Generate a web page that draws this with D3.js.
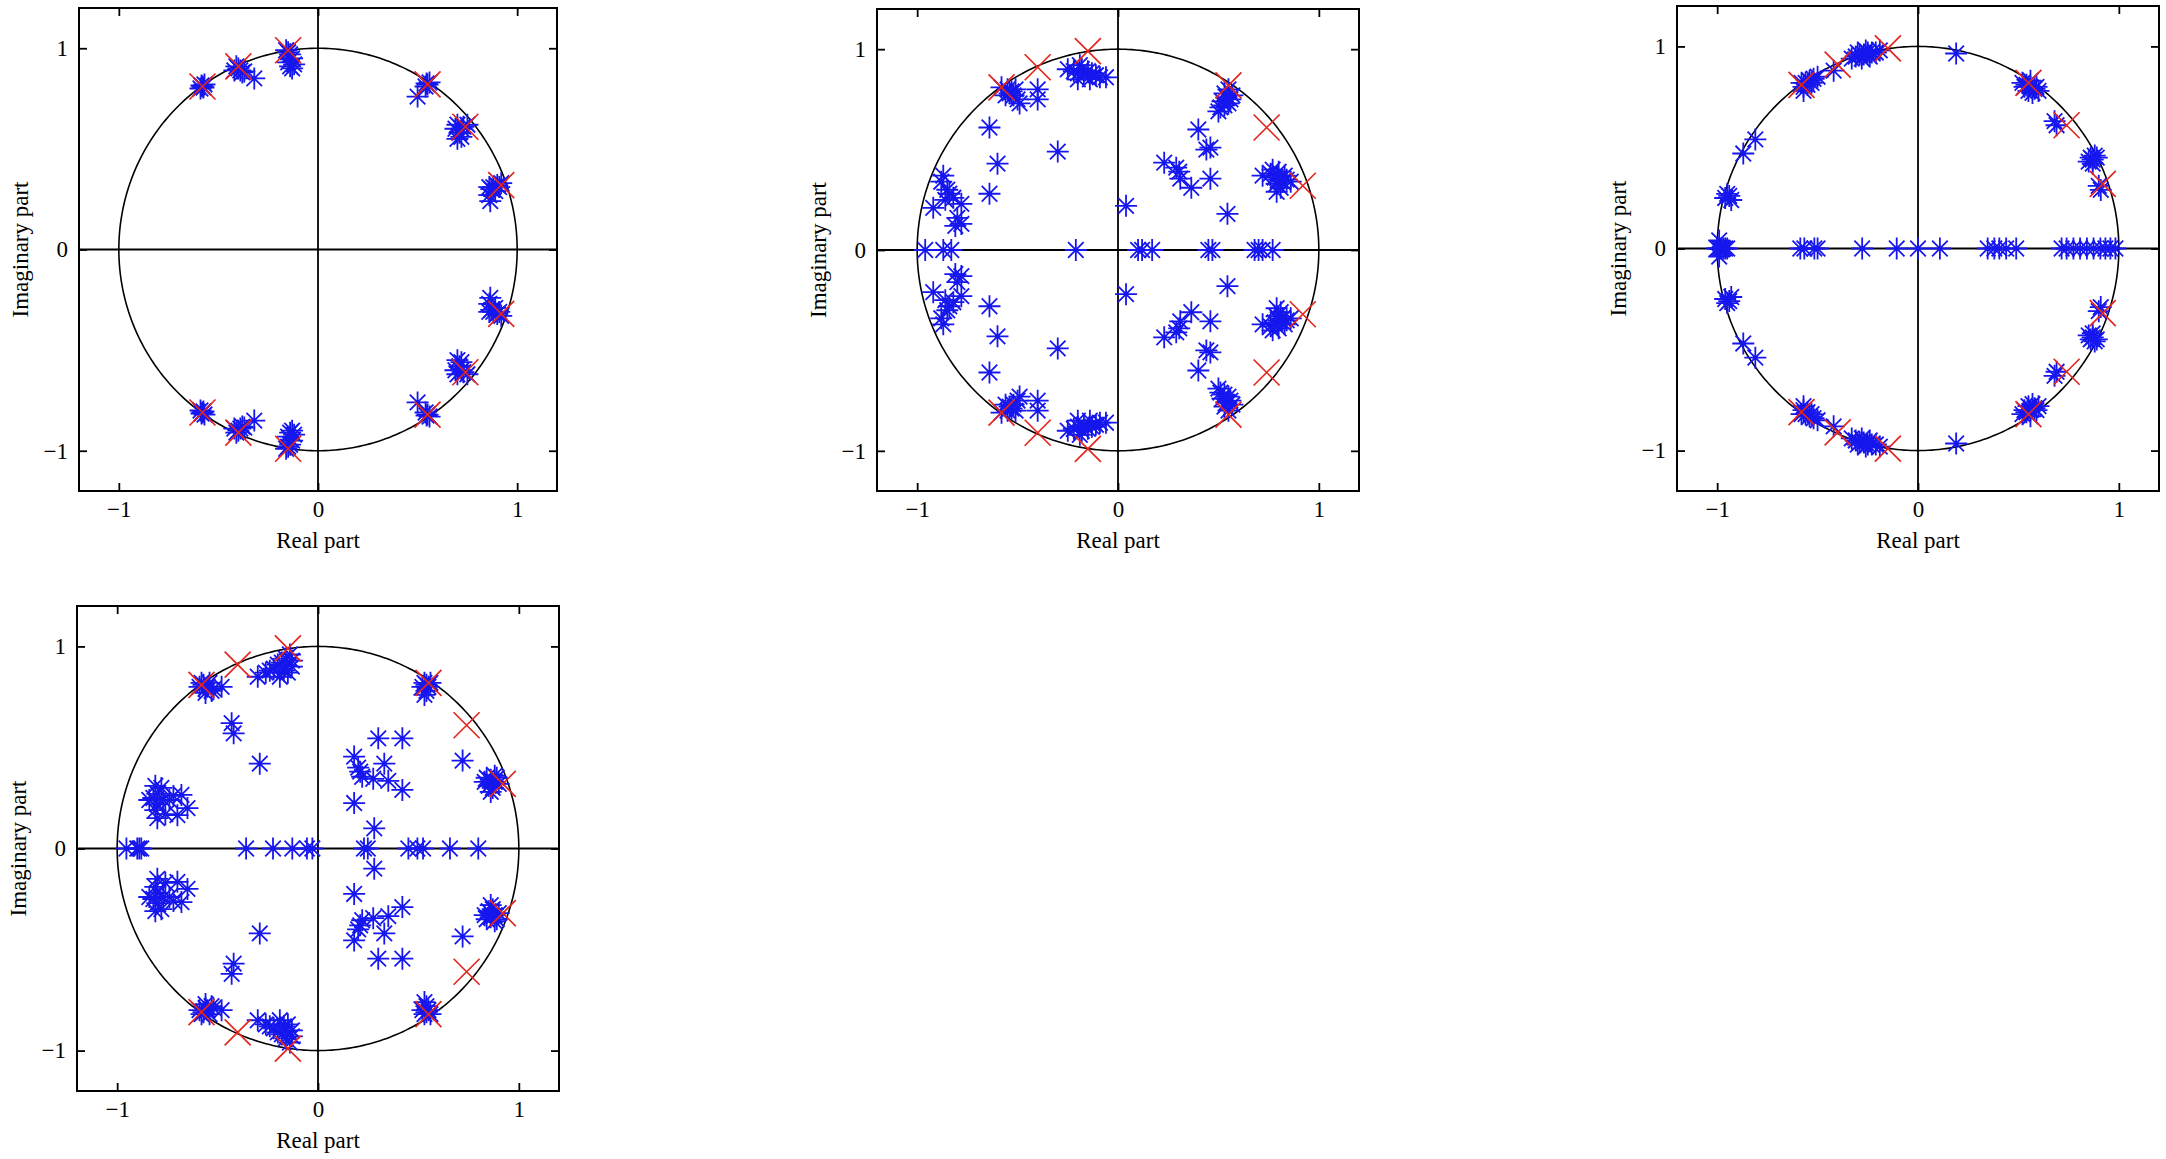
<!DOCTYPE html>
<html>
<head>
<meta charset="utf-8">
<script src="https://cdn.jsdelivr.net/npm/d3@7"></script>
<style>
  html, body { margin: 0; padding: 0; background: #fff; }
  svg { display: block; }
</style>
</head>
<body>
<div id="chart"></div>
<script>
// ---------------- DATA ----------------
const axisLimits = [-1.2, 1.2];
const xTicks = [-1, 0, 1];
const yTicks = [-1, 0, 1];
const tickLabels = ["\u22121", "0", "1"];
const xTitle = "Real part";
const yTitle = "Imaginary part";

// true poles (red crosses), upper half; conjugates are also plotted
const poleRe = [-0.58, -0.40, -0.15, 0.55, 0.74, 0.92];
const poleIm = [0.81, 0.91, 0.99, 0.82, 0.61, 0.32];

// estimated poles (blue asterisks): upper-half points (conjugates also plotted) and real-axis points
const panel1Upper = [
  [-0.58,0.81],[-0.57,0.82],[-0.59,0.80],[-0.575,0.805],[-0.585,0.815],
  [-0.40,0.90],[-0.39,0.89],[-0.41,0.91],[-0.38,0.88],[-0.42,0.89],[-0.37,0.885],[-0.32,0.85],
  [-0.15,0.98],[-0.14,0.97],[-0.16,0.99],[-0.13,0.95],[-0.14,0.91],[-0.13,0.90],[-0.12,0.92],[-0.15,0.93],
  [0.55,0.82],[0.54,0.81],[0.56,0.83],[0.545,0.825],[0.50,0.76],
  [0.70,0.62],[0.72,0.60],[0.71,0.58],[0.73,0.61],[0.69,0.60],[0.72,0.56],[0.75,0.62],[0.70,0.55],
  [0.87,0.30],[0.88,0.31],[0.90,0.32],[0.92,0.33],[0.86,0.27],[0.86,0.31],[0.89,0.29],[0.91,0.31],[0.865,0.24]
];
const panel1Real = [];

const panel2Upper = [
  [-0.58,0.81],[-0.55,0.80],[-0.53,0.79],[-0.52,0.77],[-0.50,0.75],[-0.49,0.73],[-0.54,0.78],[-0.56,0.77],[-0.51,0.80],
  [-0.40,0.80],[-0.40,0.75],
  [-0.25,0.90],[-0.22,0.89],[-0.20,0.88],[-0.18,0.90],[-0.17,0.87],[-0.15,0.89],[-0.13,0.88],[-0.11,0.87],
  [-0.09,0.86],[-0.20,0.85],[-0.14,0.85],[-0.06,0.86],[-0.19,0.92],
  [-0.64,0.61],[-0.30,0.49],[-0.60,0.43],[-0.64,0.28],
  [-0.87,0.37],[-0.88,0.34],[-0.85,0.30],[-0.84,0.28],[-0.82,0.26],[-0.92,0.21],[-0.80,0.16],[-0.78,0.13],
  [-0.78,0.23],[-0.86,0.25],[-0.81,0.12],
  [0.04,0.22],[0.40,0.60],[0.44,0.50],[0.46,0.51],
  [0.23,0.435],[0.29,0.41],[0.305,0.39],[0.31,0.355],[0.365,0.31],[0.46,0.355],[0.545,0.18],
  [0.55,0.80],[0.53,0.78],[0.54,0.76],[0.56,0.75],[0.52,0.74],[0.51,0.71],[0.50,0.69],[0.55,0.73],[0.57,0.77],[0.53,0.72],
  [0.72,0.37],[0.76,0.38],[0.78,0.36],[0.80,0.35],[0.82,0.34],[0.84,0.35],[0.79,0.33],[0.81,0.31],[0.79,0.29],
  [0.83,0.37],[0.77,0.40],[0.80,0.39],[0.86,0.34]
];
const panel2Real = [-0.96, -0.87, -0.83, -0.21, 0.10, 0.12, 0.17, 0.45, 0.47, 0.68, 0.70, 0.72, 0.77];

const panel3Upper = [
  [-0.58,0.82],[-0.56,0.82],[-0.54,0.83],[-0.52,0.84],[-0.50,0.85],[-0.57,0.80],[-0.55,0.81],[-0.53,0.82],[-0.57,0.78],
  [-0.42,0.88],
  [-0.33,0.94],[-0.31,0.95],[-0.29,0.96],[-0.27,0.96],[-0.25,0.97],[-0.23,0.97],[-0.21,0.97],[-0.19,0.98],
  [-0.28,0.94],[-0.24,0.95],[-0.30,0.97],[-0.26,0.98],
  [0.19,0.965],
  [0.52,0.82],[0.54,0.81],[0.56,0.80],[0.58,0.79],[0.60,0.78],[0.55,0.78],[0.57,0.77],[0.53,0.80],[0.59,0.80],[0.56,0.83],
  [0.68,0.63],[0.69,0.61],
  [0.86,0.45],[0.87,0.44],[0.88,0.46],[0.85,0.43],[0.87,0.42],[0.89,0.45],
  [0.91,0.29],[0.90,0.31],
  [-0.81,0.54],[-0.87,0.47],
  [-0.94,0.26],[-0.95,0.27],[-0.93,0.24],[-0.96,0.25],
  [-0.99,0.04]
];
const panel3Real = [-1.0, -0.99, -0.98, -0.97, -0.96, -0.95, -0.586, -0.566, -0.516, -0.50,
  -0.278, -0.106, 0.0, 0.109, 0.347, 0.38, 0.405, 0.439, 0.489,
  0.715, 0.74, 0.774, 0.807, 0.841, 0.874, 0.908, 0.933, 0.958, 0.983];

const panel4Upper = [
  [-0.58,0.82],[-0.57,0.81],[-0.55,0.80],[-0.56,0.79],[-0.54,0.82],[-0.59,0.80],[-0.56,0.77],[-0.52,0.79],[-0.53,0.78],[-0.48,0.80],
  [-0.30,0.85],[-0.26,0.87],[-0.24,0.88],[-0.22,0.89],[-0.20,0.91],[-0.18,0.92],[-0.16,0.94],[-0.14,0.96],
  [-0.17,0.88],[-0.13,0.90],[-0.19,0.85],[-0.15,0.87],[-0.13,0.93],
  [-0.43,0.62],[-0.42,0.57],[-0.29,0.42],
  [-0.81,0.31],[-0.84,0.24],[-0.80,0.15],[-0.68,0.265],[-0.65,0.20],[-0.70,0.165],[-0.74,0.24],
  [-0.80,0.27],[-0.82,0.25],[-0.80,0.22],[-0.81,0.19],[-0.77,0.24],[-0.72,0.26],[-0.76,0.17],[-0.78,0.30],
  [0.30,0.545],[0.42,0.545],[0.18,0.455],[0.33,0.42],[0.22,0.355],[0.21,0.38],[0.275,0.345],[0.35,0.335],
  [0.42,0.29],[0.18,0.225],[0.28,0.10],[0.20,0.40],
  [0.72,0.435],
  [0.84,0.35],[0.86,0.34],[0.88,0.33],[0.90,0.32],[0.85,0.31],[0.87,0.30],[0.86,0.28],[0.89,0.35],[0.83,0.33],[0.88,0.36],
  [0.53,0.82],[0.54,0.81],[0.55,0.80],[0.52,0.80],[0.54,0.78],[0.56,0.82],[0.53,0.76]
];
const panel4Real = [-0.954, -0.90, -0.89, -0.88, -0.358, -0.224, -0.128, -0.055, -0.028,
  0.229, 0.248, 0.45, 0.495, 0.523, 0.657, 0.798];

// ---------------- LAYOUT ----------------
const W = 2166, H = 1159;
const panels = [
  { left: 79,   top: 8,   width: 478, height: 483, upper: panel1Upper, real: panel1Real },
  { left: 877,  top: 9,   width: 482, height: 482, upper: panel2Upper, real: panel2Real },
  { left: 1677, top: 6,   width: 482, height: 485, upper: panel3Upper, real: panel3Real },
  { left: 77,   top: 606, width: 482, height: 485, upper: panel4Upper, real: panel4Real }
];

const FONT = "'Liberation Serif', 'DejaVu Serif', serif";
const FS = 23;
const BLUE = "#1616ee";
const RED = "#e3261f";

const svg = d3.select("#chart").append("svg")
  .attr("width", W).attr("height", H)
  .attr("viewBox", `0 0 ${W} ${H}`);
svg.append("rect").attr("width", W).attr("height", H).attr("fill", "#fff");

const starR = 11, starD = starR * Math.SQRT1_2;
const starPath = `M${-starR},0L${starR},0M0,${-starR}L0,${starR}` +
  `M${-starD},${-starD}L${starD},${starD}M${-starD},${starD}L${starD},${-starD}`;
const crossR = 13;
const crossPath = `M${-crossR},${-crossR}L${crossR},${crossR}M${-crossR},${crossR}L${crossR},${-crossR}`;

const circleAngles = d3.range(0, 361).map(d => d * Math.PI / 180);

panels.forEach(p => {
  const x = d3.scaleLinear().domain(axisLimits).range([p.left, p.left + p.width]);
  const y = d3.scaleLinear().domain(axisLimits).range([p.top + p.height, p.top]);
  const g = svg.append("g");

  const styleAxis = sel => {
    sel.select(".domain").remove();
    sel.selectAll(".tick line").attr("stroke", "#000").attr("stroke-width", 1.8);
    sel.selectAll("text").attr("font-family", FONT).attr("font-size", FS).attr("fill", "#000");
  };
  g.append("g").attr("transform", `translate(0,${y(axisLimits[0])})`)
    .call(d3.axisBottom(x).tickValues(xTicks).tickSize(-8).tickPadding(10).tickFormat(d => tickLabels[xTicks.indexOf(d)])).call(styleAxis);
  g.append("g").attr("transform", `translate(0,${y(axisLimits[1])})`)
    .call(d3.axisTop(x).tickValues(xTicks).tickSize(-8).tickFormat(() => "")).call(styleAxis);
  g.append("g").attr("transform", `translate(${x(axisLimits[0])},0)`)
    .call(d3.axisLeft(y).tickValues(yTicks).tickSize(-8).tickPadding(11).tickFormat(d => tickLabels[yTicks.indexOf(d)])).call(styleAxis);
  g.append("g").attr("transform", `translate(${x(axisLimits[1])},0)`)
    .call(d3.axisRight(y).tickValues(yTicks).tickSize(-8).tickFormat(() => "")).call(styleAxis);

  // crosshair through origin
  g.append("line").attr("x1", x(0)).attr("x2", x(0)).attr("y1", y(axisLimits[0])).attr("y2", y(axisLimits[1]))
    .attr("stroke", "#000").attr("stroke-width", 1.8);
  g.append("line").attr("x1", x(axisLimits[0])).attr("x2", x(axisLimits[1])).attr("y1", y(0)).attr("y2", y(0))
    .attr("stroke", "#000").attr("stroke-width", 1.8);

  // unit circle
  g.append("path")
    .attr("d", d3.line().x(a => x(Math.cos(a))).y(a => y(Math.sin(a)))(circleAngles))
    .attr("fill", "none").attr("stroke", "#000").attr("stroke-width", 1.6);

  // estimated poles
  const stars = [];
  p.upper.forEach(([re, im]) => { stars.push([re, im]); stars.push([re, -im]); });
  p.real.forEach(re => stars.push([re, 0]));
  g.append("g").selectAll("path").data(stars).join("path")
    .attr("d", starPath)
    .attr("transform", d => `translate(${x(d[0])},${y(d[1])})`)
    .attr("fill", "none").attr("stroke", BLUE).attr("stroke-width", 1.8);

  // true poles
  const poles = [];
  poleRe.forEach((re, i) => { poles.push([re, poleIm[i]]); poles.push([re, -poleIm[i]]); });
  g.append("g").selectAll("path").data(poles).join("path")
    .attr("d", crossPath)
    .attr("transform", d => `translate(${x(d[0])},${y(d[1])})`)
    .attr("fill", "none").attr("stroke", RED).attr("stroke-width", 1.7);

  // box
  g.append("rect").attr("x", p.left).attr("y", p.top).attr("width", p.width).attr("height", p.height)
    .attr("fill", "none").attr("stroke", "#000").attr("stroke-width", 2);

  // titles
  g.append("text").attr("x", p.left + p.width / 2).attr("y", p.top + p.height + 57)
    .attr("text-anchor", "middle").attr("font-family", FONT).attr("font-size", FS).attr("fill", "#000")
    .text(xTitle);
  g.append("text")
    .attr("transform", `translate(${p.left - 59},${p.top + p.height / 2}) rotate(-90)`)
    .attr("text-anchor", "middle").attr("dominant-baseline", "central")
    .attr("font-family", FONT).attr("font-size", FS).attr("fill", "#000")
    .text(yTitle);
});
</script>
</body>
</html>
